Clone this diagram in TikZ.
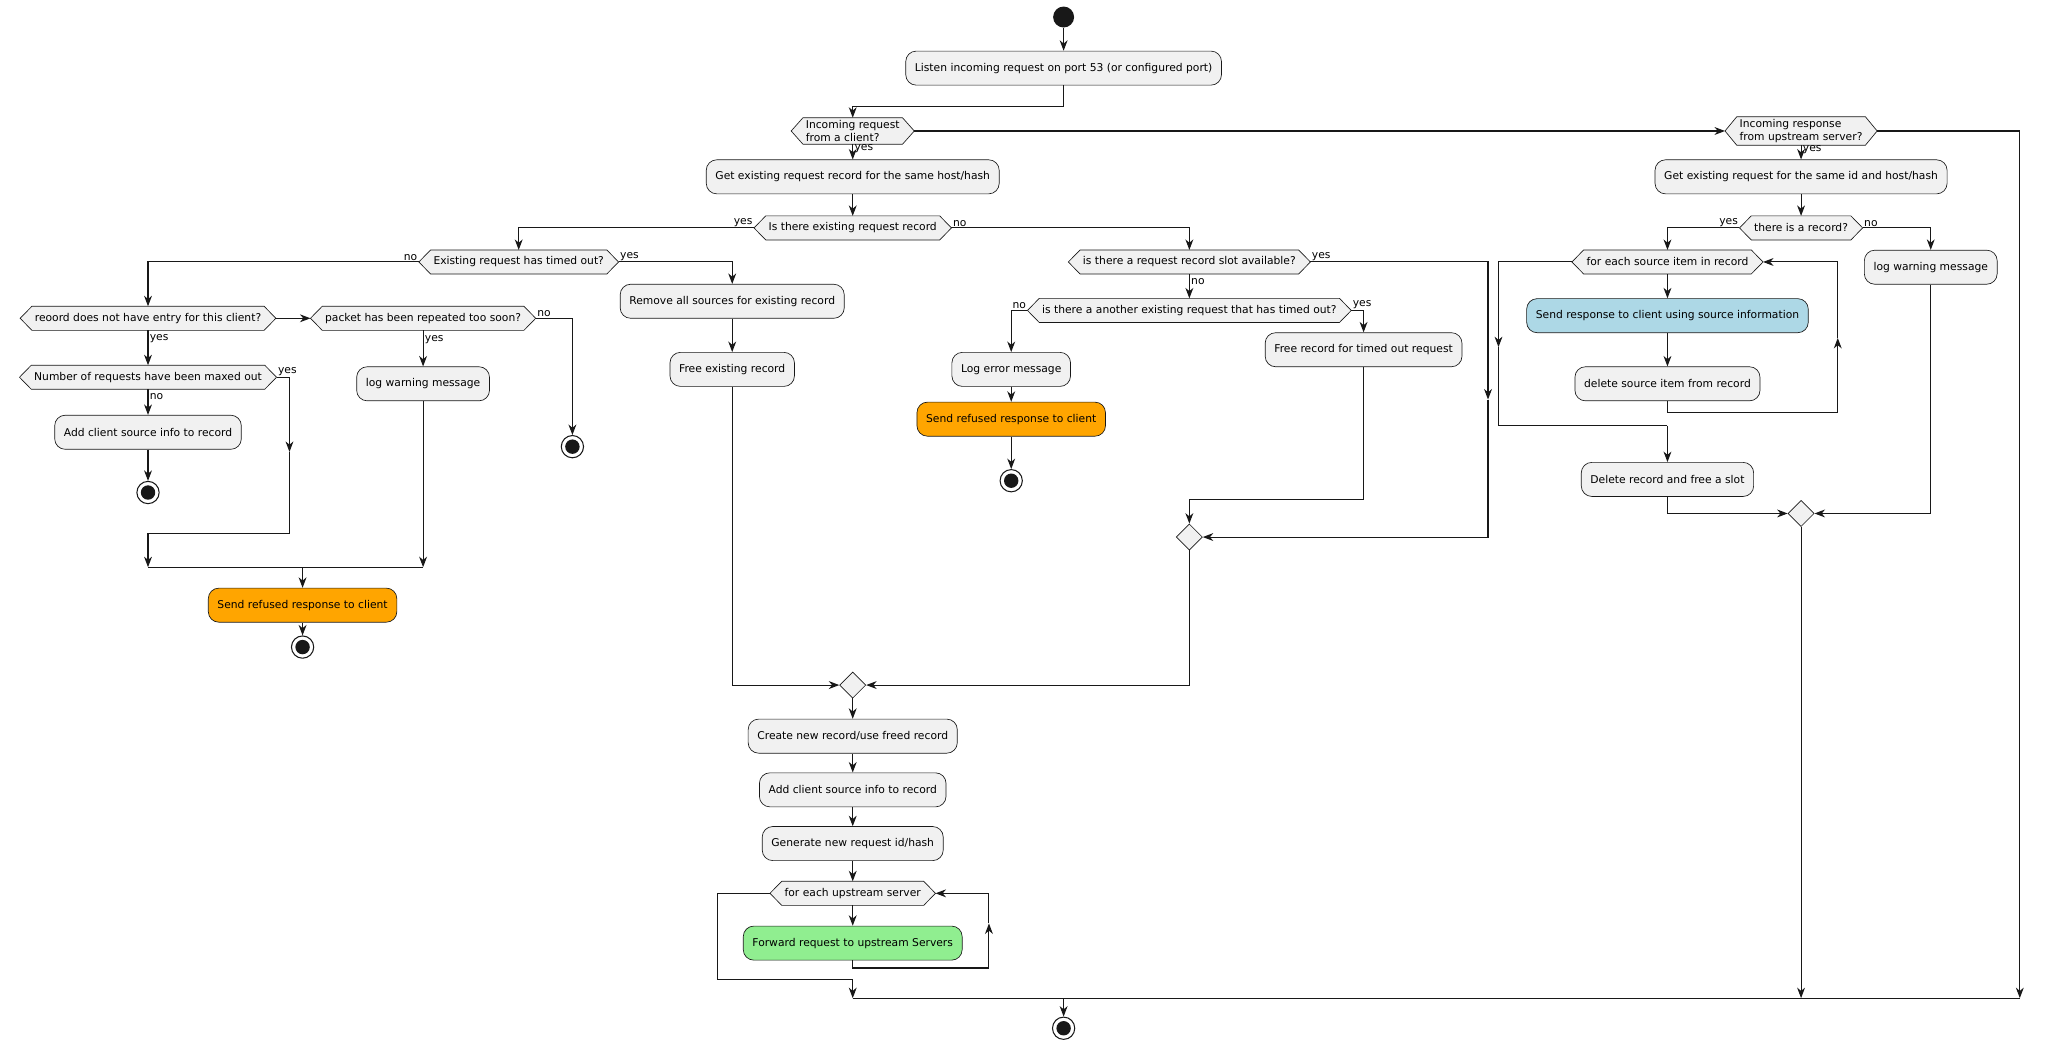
\documentclass[tikz,border=0pt]{standalone}
\usepackage{fontspec}
\setmainfont{DejaVu Sans}
\usetikzlibrary{arrows.meta,shapes.geometric,backgrounds,calc}
\definecolor{bx}{HTML}{F1F1F1}
\definecolor{ln}{HTML}{181818}
\definecolor{org}{HTML}{FFA500}
\definecolor{lb}{HTML}{ADD8E6}
\definecolor{lg}{HTML}{90EE90}
\tikzset{
  box/.style={draw=ln,line width=0.5pt,fill=bx,rounded corners=8pt,minimum height=26pt,inner xsep=7pt,font=\fontsize{8.2}{9.5}\selectfont},
  hexn/.style={inner xsep=11pt,inner ysep=2pt,minimum height=18pt,font=\fontsize{8.2}{9.5}\selectfont,align=left},
  hexd/.style={draw=ln,line width=0.5pt,fill=bx},
  arr/.style={draw=ln,line width=0.8pt,-{Stealth[length=8pt,width=6pt,inset=2.5pt]}},
  lnn/.style={draw=ln,line width=0.8pt},
  lab/.style={font=\fontsize{8.2}{9}\selectfont,inner sep=1pt},
  merge/.style={diamond,draw=ln,line width=0.5pt,fill=bx,minimum size=20pt,inner sep=0pt},
  startn/.style={circle,fill=ln,minimum size=16pt,inner sep=0pt},
  endn/.style={circle,draw=ln,line width=0.8pt,fill=white,minimum size=17pt,inner sep=0pt,
     path picture={\fill[ln] (path picture bounding box.center) circle (5.5pt);}}
}
\newcommand{\hexnode}[3]{%
  \node[hexn] (#1) at #2 {#3};
  \begin{pgfonlayer}{background}
  \draw[hexd] (#1.west) -- ([xshift=9pt]#1.north west) -- ([xshift=-9pt]#1.north east) -- (#1.east) -- ([xshift=-9pt]#1.south east) -- ([xshift=9pt]#1.south west) -- cycle;
  \end{pgfonlayer}}
\begin{document}
\begin{tikzpicture}[x=1pt,y=-1pt]
\useasboundingbox (0,0) rectangle (1562,800);
% top
\node[startn] (s) at (812,13) {};
\node[box] (listen) at (812,52) {Listen incoming request on port 53 (or configured port)};
\hexnode{d1}{(651,100)}{Incoming request\\from a client?}
\hexnode{d2}{(1375,100)}{Incoming response\\from upstream server?}
\draw[arr] (s) -- (listen);
\draw[arr] (listen.south) -- ++(0,16) -| (d1.north);
\draw[arr] (d1.east) -- (d2.west);
\coordinate (barL) at (651,762);
\coordinate (barM) at (812,762);
\coordinate (barR) at (1542,762);
\coordinate (rt) at (1542,100);
\draw[arr] (d2.east) -- (rt) -- (barR);
\draw[lnn] (barL) -- (barR);
\node[endn] (endf) at (812,785) {};
\draw[arr] (barM) -- (endf);
% client request branch
\node[box] (get1) at (651,135) {Get existing request record for the same host/hash};
\draw[arr] (d1.south) -- (get1.north) node[lab,pos=0.3,anchor=west] {yes};
\hexnode{d3}{(651,174)}{Is there existing request record}
\draw[arr] (get1) -- (d3);
\hexnode{d4}{(396,200)}{Existing request has timed out?}
\hexnode{d6}{(908,200)}{is there a request record slot available?}
\draw[arr] (d3.west) -| (d4.north);
\draw[arr] (d3.east) -| (d6.north);
\node[lab,anchor=south east] at (d3.west) {yes};
\node[lab,anchor=south west] at (d3.east) {no};
% timed out?
\hexnode{d5}{(113,243)}{reoord does not have entry for this client?}
\hexnode{d5b}{(323,243)}{packet has been repeated too soon?}
\node[box] (remove) at (559,230) {Remove all sources for existing record};
\draw[arr] (d4.west) -| (d5.north);
\draw[arr] (d4.east) -| (remove.north);
\node[lab,anchor=south east] at (d4.west) {no};
\node[lab,anchor=south west] at (d4.east) {yes};
\draw[arr] (d5.east) -- (d5b.west);
\hexnode{d8}{(113,288)}{Number of requests have been maxed out}
\draw[arr] (d5.south) -- (d8.north) node[lab,pos=0.25,anchor=west] {yes};
\node[box] (add1) at (113,330) {Add client source info to record};
\draw[arr] (d8.south) -- (add1.north) node[lab,pos=0.3,anchor=west] {no};
\node[endn] (end1) at (113,376) {};
\draw[arr] (add1) -- (end1);
\node[lab,anchor=south west] at (d8.east) {yes};
\coordinate (m8a) at (221,288);
\coordinate (m8b) at (221,345);
\coordinate (m8c) at (221,407);
\coordinate (m8d) at (113,407);
\coordinate (bar1L) at (113,433);
\coordinate (bar1M) at (231,433);
\coordinate (bar1R) at (323,433);
\draw[arr] (d8.east) -- (m8a) -- (m8b);
\draw[lnn] (m8b) -- (m8c) -- (m8d);
\draw[arr] (m8d) -- (bar1L);
\node[box] (logw1) at (323,293) {log warning message};
\draw[arr] (d5b.south) -- (logw1.north) node[lab,pos=0.25,anchor=west] {yes};
\draw[arr] (logw1.south) -- (bar1R);
\draw[lnn] (bar1L) -- (bar1R);
\node[box,fill=org] (ref1) at (231,462) {Send refused response to client};
\draw[arr] (bar1M) -- (ref1.north);
\node[endn] (end2) at (231,494) {};
\draw[arr] (ref1) -- (end2);
\node[endn] (end3) at (437,341) {};
\draw[arr] (d5b.east) -| (end3.north);
\node[lab,anchor=south west] at (d5b.east) {no};
\node[box] (free1) at (559,282) {Free existing record};
\draw[arr] (remove) -- (free1);
\node[merge] (mg2) at (651,523) {};
\draw[arr] (free1.south) |- (mg2.west);
% slot available?
\hexnode{d7}{(908,237)}{is there a another existing request that has timed out?}
\draw[arr] (d6.south) -- (d7.north) node[lab,pos=0.3,anchor=west] {no};
\node[lab,anchor=south west] at (d6.east) {yes};
\node[merge] (mg1) at (908,410) {};
\coordinate (r6a) at (1136,200);
\coordinate (r6b) at (1136,305);
\coordinate (r6c) at (1136,410);
\draw[arr] (d6.east) -- (r6a) -- (r6b);
\draw[arr] (r6b) -- (r6c) -- (mg1.east);
\node[box] (logerr) at (772,282) {Log error message};
\node[box,fill=org] (ref2) at (772,320) {Send refused response to client};
\node[endn] (end4) at (772,367) {};
\draw[arr] (d7.west) -| (logerr.north);
\node[lab,anchor=south east] at (d7.west) {no};
\draw[arr] (logerr) -- (ref2);
\draw[arr] (ref2) -- (end4);
\node[box] (freeto) at (1041,267) {Free record for timed out request};
\draw[arr] (d7.east) -| (freeto.north);
\node[lab,anchor=south west] at (d7.east) {yes};
\coordinate (f1) at (1041,381);
\draw[arr] (freeto.south) -- (f1) -| (mg1.north);
\draw[arr] (mg1.south) |- (mg2.east);
% new record
\node[box] (create) at (651,562) {Create new record/use freed record};
\node[box] (addsrc) at (651,603) {Add client source info to record};
\node[box] (gen) at (651,644) {Generate new request id/hash};
\hexnode{lp1}{(651,682)}{for each upstream server}
\node[box,fill=lg] (fwd) at (651,720) {Forward request to upstream Servers};
\draw[arr] (mg2) -- (create);
\draw[arr] (create) -- (addsrc);
\draw[arr] (addsrc) -- (gen);
\draw[arr] (gen) -- (lp1);
\draw[arr] (lp1) -- (fwd);
\coordinate (l1a) at (651,739);
\coordinate (l1b) at (755,739);
\coordinate (l1c) at (755,705);
\coordinate (l1d) at (755,682);
\draw[arr] (fwd.south) -- (l1a) -- (l1b) -- (l1c);
\draw[arr] (l1c) -- (l1d) -- (lp1.east);
\coordinate (l1e) at (548,682);
\coordinate (l1f) at (548,748);
\coordinate (l1g) at (651,748);
\draw[arr] (lp1.west) -- (l1e) -- (l1f) -- (l1g) -- (barL);
% response branch
\node[box] (get2) at (1375,135) {Get existing request for the same id and host/hash};
\draw[arr] (d2.south) -- (get2.north) node[lab,pos=0.3,anchor=west] {yes};
\hexnode{d9}{(1375,174)}{there is a record?}
\draw[arr] (get2) -- (d9);
\hexnode{lp2}{(1273,200)}{for each source item in record}
\node[box] (logw2) at (1474,204) {log warning message};
\draw[arr] (d9.west) -| (lp2.north);
\draw[arr] (d9.east) -| (logw2.north);
\node[lab,anchor=south east] at (d9.west) {yes};
\node[lab,anchor=south west] at (d9.east) {no};
\node[box,fill=lb] (send) at (1273,241) {Send response to client using source information};
\node[box] (del) at (1273,293) {delete source item from record};
\draw[arr] (lp2) -- (send);
\draw[arr] (send) -- (del);
\coordinate (l2a) at (1273,315);
\coordinate (l2b) at (1403,315);
\coordinate (l2c) at (1403,258);
\coordinate (l2d) at (1403,200);
\draw[arr] (del.south) -- (l2a) -- (l2b) -- (l2c);
\draw[arr] (l2c) -- (l2d) -- (lp2.east);
\coordinate (l2e) at (1144,200);
\coordinate (l2f) at (1144,265);
\coordinate (l2g) at (1144,325);
\coordinate (l2h) at (1273,325);
\node[box] (delrec) at (1273,366) {Delete record and free a slot};
\draw[arr] (lp2.west) -- (l2e) -- (l2f);
\draw[lnn] (l2f) -- (l2g) -- (l2h);
\draw[arr] (l2h) -- (delrec.north);
\node[merge] (mg3) at (1375,392) {};
\draw[arr] (delrec.south) |- (mg3.west);
\draw[arr] (logw2.south) |- (mg3.east);
\coordinate (mg3b) at (1375,762);
\draw[arr] (mg3.south) -- (mg3b);
\end{tikzpicture}
\end{document}
